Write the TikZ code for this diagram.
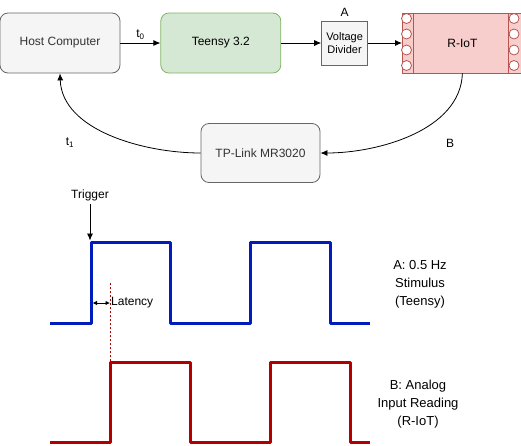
\documentclass[tikz,border=0pt]{standalone}
\usepackage{fontspec}
\setmainfont{Liberation Sans}
\usetikzlibrary{arrows.meta,positioning}

\definecolor{grayfill}{HTML}{F5F5F5}
\definecolor{grayline}{HTML}{666666}
\definecolor{graytext}{HTML}{333333}
\definecolor{greenfill}{HTML}{D5E8D4}
\definecolor{greenline}{HTML}{82B366}
\definecolor{redfill}{HTML}{F8CECC}
\definecolor{redline}{HTML}{B85450}
\definecolor{waveblue}{HTML}{001DBC}
\definecolor{wavered}{HTML}{B20000}

\tikzset{
    block/.style={rectangle, draw, rounded corners=8pt, line width=0.8pt,
        minimum width=120pt, minimum height=60pt, inner sep=0pt, font=\fontsize{12}{14}\selectfont},
    wave/.style={line width=3pt, line join=round},
    lbl/.style={font=\fontsize{12}{14}\selectfont, align=center},
    desc/.style={font=\fontsize{13}{18}\selectfont, align=center},
    link/.style={-{Latex[length=7pt,width=6pt]}, line width=0.8pt}
}

\begin{document}
\begin{tikzpicture}[
                        x=1pt, y=-1pt,
                        node distance=40pt,
                        >=latex
                    ]
                    \useasboundingbox (0,0) rectangle (521,445);
                    % Blocks
                    \node [block, fill=grayfill, draw=grayline, text=graytext] (host) at (60,43) {Host Computer};
                    \node [block, fill=greenfill, draw=greenline, right=of host] (teensy) {Teensy 3.2};
                    \node [rectangle, draw=grayline, fill=grayfill, line width=0.8pt, minimum width=46pt, minimum height=44pt,
                           inner sep=0pt, align=center, font=\fontsize{11}{13}\selectfont, right=of teensy] (divider) {Voltage\\Divider};
                    \node [block, rounded corners=0pt, fill=redfill, draw=redline, right=34pt of divider] (riot) {R-IoT};
                    \node [block, fill=grayfill, draw=grayline, text=graytext, minimum width=119pt, minimum height=59pt] (tplink) at (260.5,153) {TP-Link MR3020};

                    % Pins of the R-IoT
                    \draw [redline, line width=0.8pt] (413,13) -- (413,73) (508,13) -- (508,73);
                    \foreach \y in {18.5,34,50,65.5} {
                        \draw [redline, fill=white, line width=0.8pt] (406.5,\y) circle (5pt);
                        \draw [redline, fill=white, line width=0.8pt] (514,\y) circle (5pt);
                    }

                    % Labels
                    \node [lbl] (labelA) [above=1pt of divider] {A};
                    \node [lbl] (labelB) at (450,143) {B};
                    \node [lbl] (labelt1) at (70,143) {t\textsubscript{1}};

                    % Connections
                    \draw [link] (host) --node[lbl, above]{t\textsubscript{0}} (teensy);
                    \draw [link] (teensy) -- (divider);
                    \draw [link] (divider) -- (riot);
                    \draw [link] (riot.south) to[out=-92, in=0, looseness=0.9] (tplink.east);
                    \draw [link] (tplink.west) to[out=180, in=-88, looseness=0.9] (host.south);

                    % Waveforms
                    \draw [wave, waveblue] (50,323) -- (91,323) -- (91,242) -- (170,242) -- (170,323)
                        -- (250,323) -- (250,242) -- (330,242) -- (330,323) -- (370,323);
                    \draw [wave, wavered] (50,442) -- (110,442) -- (110,362) -- (190,362) -- (190,442)
                        -- (270,442) -- (270,362) -- (350,362) -- (350,442) -- (370,442);

                    % Trigger and latency
                    \node [lbl] (trigger) at (90,195) {Trigger};
                    \coordinate (rise) at (91,240.5);
                    \draw [link] (trigger.south) -- (trigger.south |- rise);
                    \coordinate (latA) at (92.5,303);
                    \coordinate (latB) at (110,303);
                    \draw [wavered, line width=0.8pt, dash pattern=on 2pt off 2pt] (110,283) -- (110,361);
                    \draw [{Latex[length=4.5pt,width=4.5pt]}-{Latex[length=4.5pt,width=4.5pt]}, line width=0.8pt] (latA) -- (latB);
                    \node [lbl, anchor=west, inner sep=1pt] (latency) at (latB) {Latency};

                    % Descriptions
                    \node [desc] (descA) at (420,284) {A: 0.5 Hz\\Stimulus\\(Teensy)};
                    \node [desc] (descB) at (418,404) {B: Analog\\Input Reading\\(R-IoT)};
                \end{tikzpicture}
\end{document}
